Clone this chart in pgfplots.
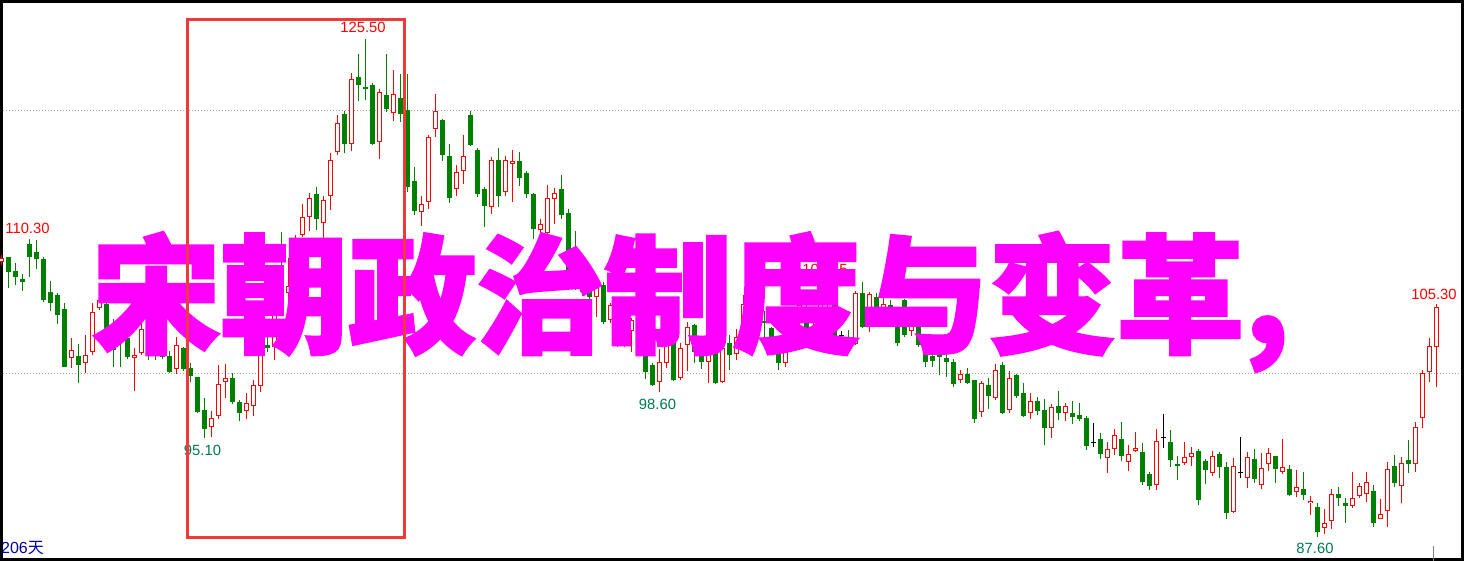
\documentclass[border=0pt]{standalone}
\usepackage{fontspec}
\setmainfont{Liberation Sans}
\newfontfamily\cjk{Noto Sans CJK SC}
\newfontfamily\cjkt{Noto Sans CJK SC}[BoldFeatures={FakeBold=2}]
\usepackage{pgfplots}
\usepackage{pgfplotstable}
\pgfplotsset{compat=1.18}
\definecolor{upc}{RGB}{255,0,0}
\definecolor{dnc}{RGB}{0,128,0}
\definecolor{rectc}{RGB}{238,58,58}
\definecolor{magen}{RGB}{255,0,255}
\definecolor{lowc}{RGB}{0,120,80}
\definecolor{dayc}{RGB}{0,0,160}
\definecolor{gridc}{RGB}{165,165,165}

\pgfplotstableread{
x o h l c
-1 108.52 109.05 108.29 108.82
9 101.19 102.76 100.43 101.82
11 100.86 102.96 100.10 101.42
12 101.69 105.37 101.44 104.69
13 104.99 106.89 104.86 105.62
18 101.19 101.95 98.70 101.44
19 101.57 103.85 101.44 103.42
24 100.35 102.83 100.00 102.18
29 95.99 97.18 95.18 96.63
30 96.83 100.68 96.58 99.24
31 99.41 100.76 98.19 99.67
34 97.21 98.58 96.55 97.81
35 97.59 99.54 96.80 99.14
36 99.11 102.96 98.65 102.45
38 102.07 108.11 101.06 105.62
40 106.13 108.80 104.74 106.71
41 107.15 110.57 106.77 109.81
42 110.57 112.93 110.39 111.91
43 111.91 113.74 110.90 113.36
45 111.46 113.53 110.06 113.21
46 113.53 116.78 112.47 116.25
47 116.86 119.69 116.65 119.06
49 117.49 122.91 116.98 122.41
53 117.62 121.67 116.33 121.44
55 119.82 123.12 119.26 121.27
59 112.29 113.53 111.28 112.93
60 113.06 118.17 112.55 118.00
61 118.61 121.29 118.04 119.98
64 114.04 115.89 113.56 115.38
65 115.46 118.17 114.45 116.58
69 112.72 116.48 112.19 116.25
71 113.82 116.58 113.56 116.25
72 115.97 117.03 113.10 116.20
76 110.93 111.79 109.68 111.38
77 110.70 114.37 110.19 113.36
78 113.28 114.12 111.38 113.74
84 105.85 107.30 104.33 106.61
86 104.10 105.40 103.88 105.24
88 102.58 104.48 102.05 103.95
89 103.29 104.28 101.69 104.10
93 99.41 101.88 98.60 100.93
94 100.86 102.45 100.43 102.20
96 99.67 102.33 99.54 101.95
97 102.20 103.93 100.25 103.59
100 100.91 102.74 99.31 101.82
102 99.39 102.58 99.31 101.97
104 101.52 103.42 101.06 102.81
105 102.36 106.01 101.82 105.32
111 100.83 102.96 100.53 102.28
112 102.28 104.71 101.82 104.10
113 103.95 105.47 103.65 105.24
115 103.34 103.95 103.12 103.65
116 103.95 107.15 103.65 105.93
117 105.24 106.84 104.71 106.39
121 102.26 106.31 102.20 106.13
123 103.80 106.26 103.21 106.08
125 104.26 105.83 103.72 105.32
129 103.29 104.48 102.89 103.80
136 99.52 100.30 99.34 99.97
139 97.08 99.47 96.75 99.29
141 98.19 100.76 98.02 100.30
143 97.28 100.23 97.05 99.67
146 97.01 98.53 96.58 97.92
149 95.91 97.69 95.15 97.47
151 97.05 97.77 96.42 97.56
157 93.59 94.80 92.49 94.27
158 94.27 95.79 93.84 95.34
160 93.33 94.60 92.62 93.91
161 94.16 95.59 94.09 94.35
164 91.58 95.81 91.18 94.90
168 93.25 94.80 93.08 93.66
169 93.66 94.45 93.00 93.97
172 92.49 94.14 92.26 93.76
175 89.53 93.59 89.45 93.00
177 92.07 94.04 91.35 93.66
179 91.56 93.97 91.23 92.83
180 93.13 94.35 92.64 93.97
182 92.57 95.05 92.39 92.95
184 91.05 92.70 90.67 91.38
186 90.16 90.72 89.27 90.34
188 88.31 89.73 87.83 88.64
189 88.84 91.25 88.19 90.85
192 89.98 92.52 89.83 90.59
193 90.74 91.69 90.54 91.50
194 90.87 92.52 90.29 91.81
196 88.95 90.49 88.95 89.33
197 89.58 93.28 88.39 92.75
199 91.50 93.71 90.16 93.25
201 93.13 96.37 92.57 95.99
202 96.63 100.30 95.87 100.05
203 100.13 102.71 99.41 102.15
204 102.03 105.30 98.99 105.12
}\tabup

\pgfplotstableread{
x o h l c
0 108.84 108.92 106.51 107.78
1 107.78 108.42 106.77 107.35
2 107.22 107.60 106.33 107.02
3 109.88 110.30 107.40 108.92
4 109.20 110.20 107.96 108.72
5 108.74 108.92 105.50 105.62
6 106.16 107.07 104.81 105.42
7 105.93 106.13 103.78 104.48
8 104.94 105.37 100.50 100.55
10 101.31 102.28 99.29 100.68
14 105.32 105.68 102.89 103.12
15 103.72 104.18 100.55 101.82
16 103.34 104.26 100.55 102.58
17 102.66 102.96 101.12 101.31
20 104.10 104.86 101.06 102.05
21 103.34 103.95 101.06 101.97
22 102.41 102.83 101.12 101.31
23 101.31 101.75 100.05 100.17
25 101.90 102.07 100.25 100.40
26 100.43 100.81 99.41 99.87
27 99.72 99.79 97.01 97.08
28 97.26 98.15 95.10 95.79
32 99.67 100.05 97.69 97.85
33 97.81 98.02 96.42 97.05
37 102.20 102.96 101.67 101.97
39 107.60 110.82 105.62 106.51
44 113.61 114.20 110.95 111.76
48 119.75 120.02 116.78 117.47
50 122.58 124.33 120.78 121.95
51 121.75 125.50 120.83 121.65
52 121.90 122.15 117.41 117.51
54 121.14 124.33 119.95 120.17
56 120.96 122.81 119.18 119.75
57 120.07 122.81 113.86 114.24
58 114.67 115.76 112.09 112.42
62 119.26 119.37 116.22 116.68
63 116.52 117.49 113.02 113.41
66 119.62 120.00 117.34 117.41
67 117.03 117.16 113.48 113.69
68 113.99 114.20 111.15 112.80
70 116.20 117.16 112.72 113.56
73 116.12 116.88 114.32 114.93
74 115.28 115.44 113.41 113.71
75 113.61 113.74 110.24 111.00
79 113.99 115.13 111.81 112.11
80 112.17 112.55 106.39 106.77
81 109.05 110.87 106.39 107.15
82 107.91 108.67 105.93 106.23
83 106.61 107.15 105.40 105.85
85 106.69 106.99 103.80 103.95
87 104.10 104.71 102.05 102.58
90 103.97 104.18 102.03 102.20
91 101.44 102.58 99.59 100.17
92 100.68 100.83 99.08 99.16
95 103.19 103.72 99.47 99.54
98 103.65 103.78 100.81 101.69
99 102.36 102.74 100.38 100.91
101 101.59 102.20 99.24 99.31
103 102.28 102.96 100.30 101.44
106 105.47 105.93 104.10 104.48
107 104.71 105.17 103.34 103.72
108 103.97 104.81 102.33 103.85
109 103.42 103.57 101.52 101.67
110 101.67 102.89 100.30 100.83
114 104.71 105.62 102.96 103.27
118 105.62 105.85 101.44 102.58
120 102.64 103.35 102.20 102.33
122 106.13 106.97 103.47 103.59
124 105.78 106.18 103.72 104.26
126 105.17 105.62 103.57 103.95
127 103.85 104.26 102.15 102.33
128 105.55 105.70 102.83 102.96
130 103.97 104.86 102.03 102.20
131 102.07 102.20 100.55 100.93
132 101.31 101.57 100.51 101.01
133 101.44 101.82 99.92 101.27
134 101.19 101.62 99.79 100.93
135 100.89 101.14 98.99 99.26
137 99.97 100.43 99.24 99.34
138 99.47 99.47 96.29 96.58
140 99.16 99.72 97.34 98.35
142 100.61 100.89 96.96 97.05
144 99.92 99.97 98.19 98.35
145 98.53 99.29 96.75 96.83
147 97.87 98.25 96.88 97.21
148 97.26 98.10 94.60 95.91
150 97.56 98.70 96.50 97.01
152 96.96 97.94 96.19 96.75
153 96.88 97.77 96.45 96.58
154 96.58 96.80 94.22 94.54
156 94.98 95.51 93.53 93.91
159 95.03 96.35 93.40 93.78
162 94.01 94.73 91.56 91.81
163 92.32 92.52 91.18 91.50
166 94.77 95.74 92.95 93.46
167 93.15 93.76 91.94 93.02
170 94.09 94.29 90.03 90.41
171 93.33 93.53 91.63 92.70
173 93.84 94.04 92.11 92.95
174 92.87 93.33 88.95 89.45
178 93.53 94.29 91.73 91.99
181 93.69 93.78 91.73 92.77
183 92.77 93.08 90.72 90.80
185 91.25 92.52 90.42 90.80
187 89.86 90.16 87.60 88.00
190 90.85 91.38 89.96 90.59
191 90.16 90.54 88.69 89.98
195 91.10 91.56 88.39 88.69
198 93.00 93.84 91.43 91.73
200 93.43 94.98 92.49 93.13
}\tabdn

\pgfplotstableread{
x o h l c
119 102.89 103.27 102.51 102.89
155 94.80 96.27 94.47 94.80
165 95.15 96.96 94.39 95.15
176 92.49 95.23 92.11 92.49
}\tabdj

\begin{document}
\begin{tikzpicture}
\begin{axis}[
  name=ax, at={(0,0)}, anchor=south west,
  scale only axis, width=732pt, height=280.5pt,
  xmin=-1.186, xmax=207.96, ymin=85.78, ymax=128.44,
  axis line style={line width=3pt, black},
  xtick=\empty, ytick={100,120}, yticklabels={}, major tick length=0pt,
  ymajorgrids=true,
  grid style={gridc, line width=0.5pt, dash pattern=on 0.5pt off 1pt},
  clip=true,
]
% red (up) candles
\addplot[draw=none, mark=none, forget plot,
  error bars/.cd, y dir=plus, y explicit, error mark=none,
  error bar style={line width=0.5pt, draw=upc}]
  table[x=x, y=l, y error plus expr={\thisrow{h}-\thisrow{l}}] {\tabup};
\addplot[draw=none, mark=none, forget plot,
  error bars/.cd, y dir=plus, y explicit, error mark=none,
  error bar style={line width=2.5pt, draw=upc}]
  table[x=x, y=o, y error plus expr={\thisrow{c}-\thisrow{o}}] {\tabup};
\addplot[draw=none, mark=none, forget plot,
  error bars/.cd, y dir=plus, y explicit, error mark=none,
  error bar style={line width=1.5pt, draw=white}]
  table[x=x, y expr={\thisrow{o}+0.076}, y error plus expr={max(\thisrow{c}-\thisrow{o}-0.152,0)}] {\tabup};
% green (down) candles
\addplot[draw=none, mark=none, forget plot,
  error bars/.cd, y dir=plus, y explicit, error mark=none,
  error bar style={line width=0.5pt, draw=dnc}]
  table[x=x, y=l, y error plus expr={\thisrow{h}-\thisrow{l}}] {\tabdn};
\addplot[draw=none, mark=none, forget plot,
  error bars/.cd, y dir=plus, y explicit, error mark=none,
  error bar style={line width=2.5pt, draw=dnc}]
  table[x=x, y=c, y error plus expr={\thisrow{o}-\thisrow{c}+0.04}] {\tabdn};
% doji (black)
\addplot[draw=none, mark=none, forget plot,
  error bars/.cd, y dir=plus, y explicit, error mark=none,
  error bar style={line width=0.5pt, draw=black}]
  table[x=x, y=l, y error plus expr={\thisrow{h}-\thisrow{l}}] {\tabdj};
\addplot[draw=none, mark=none, forget plot,
  error bars/.cd, x dir=both, x fixed=0.36, error mark=none,
  error bar style={line width=0.5pt, draw=black}]
  table[x=x, y=c] {\tabdj};

% extreme-value labels
\node[text=upc, font=\fontsize{7.4pt}{8pt}\selectfont, inner sep=0pt] at (axis cs:50.67,126.35) {125.50};
\node[text=upc, font=\fontsize{7.4pt}{8pt}\selectfont, inner sep=0pt] at (axis cs:2.74,111.08) {110.30};
\node[text=upc, font=\fontsize{7.4pt}{8pt}\selectfont, inner sep=0pt] at (axis cs:116.67,107.98) {107.15};
\node[text=upc, font=\fontsize{7.4pt}{8pt}\selectfont, inner sep=0pt] at (axis cs:203.67,106.06) {105.30};
\node[text=lowc, font=\fontsize{7.4pt}{8pt}\selectfont, inner sep=0pt] at (axis cs:27.74,94.16) {95.10};
\node[text=lowc, font=\fontsize{7.4pt}{8pt}\selectfont, inner sep=0pt] at (axis cs:92.74,97.68) {98.60};
\node[text=lowc, font=\fontsize{7.4pt}{8pt}\selectfont, inner sep=0pt] at (axis cs:186.67,86.76) {87.60};
\node[text=dayc, font=\fontsize{8pt}{9pt}\selectfont, inner sep=0pt, anchor=west] at (axis cs:-1.08,86.74) {206{\cjk 天}};
\draw[gray, line width=0.5pt] (axis cs:203.53,86.9) -- (axis cs:203.53,85.78);

% overlay title
\node[anchor=base west, inner sep=0pt, text=magen, font={\cjkt\bfseries\fontsize{64pt}{64pt}\selectfont}] at (axis cs:11.96,102.36) {宋朝政治制度与变革,};

% highlight rectangle
\draw[rectc, line width=1.5pt] (axis cs:25.63,126.99) rectangle (axis cs:56.63,87.55);
\end{axis}
\pgfresetboundingbox
\path[use as bounding box] (ax.south west) rectangle (ax.north east);
\end{tikzpicture}
\end{document}
